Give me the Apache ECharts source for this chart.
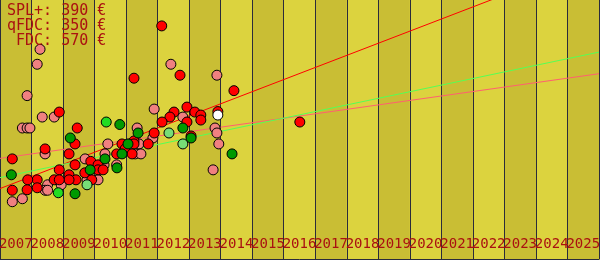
<!DOCTYPE html>
<html>
<head>
<meta charset="utf-8">
<script src="https://cdn.jsdelivr.net/npm/echarts@6/dist/echarts.min.js"></script>
<style>html,body{margin:0;padding:0;background:#dcd33d;}#c{width:600px;height:260px;}</style>
</head>
<body>
<div id="c"></div>
<script>
// Year categories (one band per year)
const years = ['2007','2008','2009','2010','2011','2012','2013','2014','2015','2016','2017','2018','2019','2020','2021','2022','2023','2024','2025'];
// Legend text lines
const legendLines = ['SPL+: 390 €', 'qFDC: 350 €', ' FDC: 570 €'];

// Points: [year (decimal), price]
const redPoints = [
  [2012.13,468],[2008.88,295],[2009.45,263],[2009.38,231],[2008.43,221],[2009.19,211],[2007.39,201],
  [2010.70,211],[2009.88,196],[2009.38,189],[2010.11,189],[2010.11,179],[2010.27,179],[2008.88,179],
  [2009.19,169],[2009.69,173],[2009.41,159],[2009.19,159],[2008.72,159],[2008.88,159],[2008.18,159],
  [2007.88,159],[2009.91,159],[2008.18,143],[2007.86,139],[2007.39,138],[2011.25,363],[2012.71,369],
  [2014.42,338],[2012.52,295],[2012.39,285],[2012.93,305],[2012.14,275],[2012.93,275],[2013.18,295],
  [2013.37,289],[2013.37,279],[2013.91,296],[2011.89,253],[2013.06,247],[2011.25,237],[2010.87,231],
  [2011.25,231],[2011.70,231],[2010.97,221],[2011.19,211],[2016.51,275]
];
const pinkPoints = [
  [2008.18,391],[2008.27,421],[2007.86,328],[2008.34,285],[2008.72,285],[2007.71,263],[2007.86,263],
  [2007.95,263],[2008.43,211],[2009.70,201],[2010.42,231],[2010.33,211],[2010.30,189],[2010.70,189],
  [2009.76,159],[2010.11,159],[2008.51,149],[2008.94,149],[2008.43,138],[2008.51,138],[2007.71,121],
  [2007.39,115],[2012.42,391],[2013.88,369],[2011.89,301],[2012.80,285],[2011.35,263],[2013.82,263],
  [2013.88,253],[2011.85,243],[2011.41,231],[2013.94,231],[2011.29,211],[2011.47,211],[2013.76,179]
];
const darkGreenPoints = [
  [2009.23,243],[2010.80,270],[2011.38,253],[2012.80,263],[2013.06,243],[2011.06,231],[2010.87,211],
  [2010.33,201],[2014.36,211],[2010.71,183],[2009.86,179],[2007.36,169],[2009.38,131]
];
const brightGreenPoints = [[2010.37,275],[2008.85,133]];
const paleGreenPoints = [[2012.36,253],[2012.80,231],[2009.76,149]];
const whitePoints = [[2013.91,289]];

// Trend lines: [year, price] endpoints
const redTrend = [[2007,141.4],[2026,603.4]];
const pinkTrend = [[2007,202],[2026,372]];
const greenTrend = [[2007,163.4],[2026,415.4]];

const chart = echarts.init(document.getElementById('c'), null, {renderer:'canvas'});
const txtColor = '#aa1111';
const mono = "'DejaVu Sans Mono', monospace";

function scatter(data, color, z) {
  return {type:'scatter', data, symbol:'circle', symbolSize:10, z,
    itemStyle:{color, borderColor:'#000', borderWidth:1, opacity:1}, animation:false,
    emphasis:{disabled:true}};
}
function trend(data, color) {
  return {type:'line', data, showSymbol:false, symbol:'none', z:1, clip:true, animation:false,
    lineStyle:{color, width:1}, emphasis:{disabled:true}};
}

chart.setOption({
  animation:false,
  backgroundColor:'#dcd33d',
  grid:{left:0, right:1, top:0, bottom:1, containLabel:false, outerBoundsMode:'none'},
  xAxis:[
    {type:'value', min:2007, max:2026, interval:1, position:'bottom',
     axisLine:{show:true, lineStyle:{color:'#2b2b3b', width:1}},
     axisTick:{show:false}, axisLabel:{show:false},
     splitLine:{show:true, lineStyle:{color:'#2b2b3b', width:1}},
     splitArea:{show:true, areaStyle:{color:['#c9be34','#dcd33e']}}},
    {type:'category', data:years, position:'bottom', boundaryGap:true,
     axisLine:{show:false}, axisTick:{show:false}, splitLine:{show:false},
     axisLabel:{show:true, inside:true, interval:0, hideOverlap:false, margin:8,
       color:txtColor, fontFamily:mono, fontSize:14}}
  ],
  yAxis:{type:'value', min:0, max:520, show:false, splitLine:{show:false}},
  graphic:[{type:'text', left:7, top:4, z:100,
    style:{text:legendLines.join('\n'), fill:txtColor, font:"15px 'DejaVu Sans Mono', monospace", lineHeight:15}}],
  series:[
    trend(redTrend, '#ff0000'),
    trend(pinkTrend, '#ff6070'),
    trend(greenTrend, '#55ff55'),
    scatter(pinkPoints, '#f08080', 5),
    scatter(redPoints, '#ff0000', 6),
    scatter(darkGreenPoints, '#009900', 7),
    scatter(brightGreenPoints, '#22dd22', 8),
    scatter(paleGreenPoints, '#77dd77', 8),
    scatter(whitePoints, '#ffffff', 9)
  ]
});
</script>
</body>
</html>
